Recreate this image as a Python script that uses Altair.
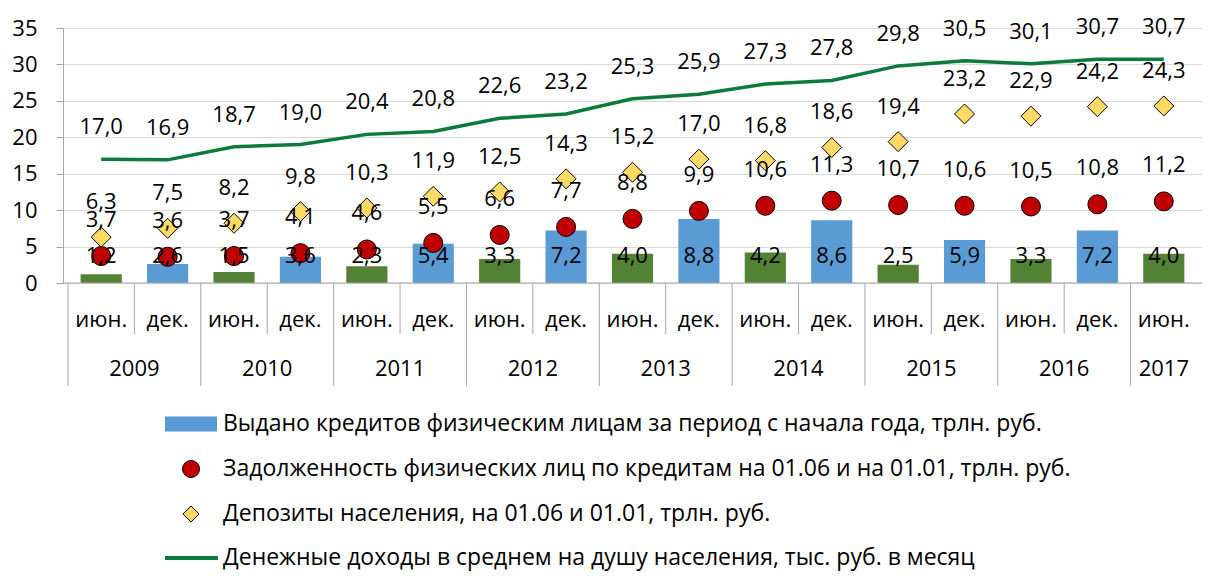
import altair as alt
import pandas as pd

# ---- data ----
years = ["2009", "2009", "2010", "2010", "2011", "2011", "2012", "2012",
         "2013", "2013", "2014", "2014", "2015", "2015", "2016", "2016", "2017"]
months = ["июн.", "дек."] * 8 + ["июн."]
credits = [1.2, 2.6, 1.5, 3.6, 2.3, 5.4, 3.3, 7.2, 4.0, 8.8, 4.2, 8.6, 2.5, 5.9, 3.3, 7.2, 4.0]
debt = [3.7, 3.6, 3.7, 4.1, 4.6, 5.5, 6.6, 7.7, 8.8, 9.9, 10.6, 11.3, 10.7, 10.6, 10.5, 10.8, 11.2]
deposits = [6.3, 7.5, 8.2, 9.8, 10.3, 11.9, 12.5, 14.3, 15.2, 17.0, 16.8, 18.6, 19.4, 23.2, 22.9, 24.2, 24.3]
income = [17.0, 16.9, 18.7, 19.0, 20.4, 20.8, 22.6, 23.2, 25.3, 25.9, 27.3, 27.8, 29.8, 30.5, 30.1, 30.7, 30.7]
y_ticks = [0, 5, 10, 15, 20, 25, 30, 35]
legend_labels = [
    "Выдано кредитов физическим лицам за период с начала года, трлн. руб.",
    "Задолженность физических лиц по кредитам на 01.06 и на 01.01, трлн. руб.",
    "Депозиты населения, на 01.06 и 01.01, трлн. руб.",
    "Денежные доходы в среднем на душу населения, тыс. руб. в месяц",
]

df = pd.DataFrame({
    "i": list(range(len(years))),
    "year": years,
    "month": months,
    "credits": credits,
    "debt": debt,
    "deposits": deposits,
    "income": income,
})

FONT = "Open Sans"
FS = 22
FS_LEG = 23
W, H = 1139, 255
GREEN_BAR = "#548235"
BLUE_BAR = "#5B9BD5"
LINE_GREEN = "#0B7A3A"
RED = "#C00000"
GOLD = "#FFD966"

xs = alt.Scale(domain=[-0.5, len(years) - 0.5], nice=False, zero=False)
ys = alt.Scale(domain=[0, 35], nice=False, zero=True)
yaxis = alt.Axis(values=y_ticks, labelFontSize=FS, labelFont=FONT,
                 labelColor="black", tickSize=7, tickColor="#A6A6A6",
                 domainColor="#A6A6A6", gridColor="#D9D9D9", grid=True,
                 labelPadding=19, title=None)
X = alt.X("i:Q", scale=xs, axis=None)


def Y(field):
    return alt.Y(f"{field}:Q", scale=ys, axis=yaxis, title=None)


base = alt.Chart(df)


def fmt(field):
    return f"replace(format(datum.{field}, '.1f'), '.', ',')"


bars = base.transform_calculate(
    x0="datum.i - 0.31", x1="datum.i + 0.31"
).mark_bar(orient="vertical").encode(
    x=alt.X("x0:Q", scale=xs, axis=None),
    x2="x1:Q",
    y=Y("credits"),
    y2=alt.datum(0),
    color=alt.Color("month:N", scale=alt.Scale(domain=["июн.", "дек."],
                                               range=[GREEN_BAR, BLUE_BAR]),
                    legend=None),
)

axis_line = base.transform_filter("datum.i == 0").mark_rule(
    color="#A6A6A6", strokeWidth=1).encode(
    x=alt.value(0), x2=alt.value(W), y=alt.value(H))

line = base.mark_line(color=LINE_GREEN, strokeWidth=3.5).encode(x=X, y=Y("income"))

circles = base.mark_point(shape="circle", filled=True, fill=RED, stroke="black",
                          strokeWidth=1, size=361, opacity=1).encode(x=X, y=Y("debt"))

diamonds = base.mark_point(shape="diamond", filled=True, fill=GOLD, stroke="black",
                           strokeWidth=1, size=400, opacity=1).encode(x=X, y=Y("deposits"))


def labels(field, dy):
    return base.transform_calculate(lab=fmt(field)).mark_text(
        font=FONT, fontSize=FS, color="black", baseline="middle", dy=dy
    ).encode(x=X, y=Y(field), text="lab:N")


bar_labels = base.transform_calculate(lab=fmt("credits"), ly="3.7").mark_text(
    font=FONT, fontSize=FS, color="black", baseline="middle"
).encode(x=X, y=Y("ly"), text="lab:N")

# category axis: separators and two-level labels
short_sep = base.transform_filter("datum.month == 'июн.' && datum.i < %d" % (len(years) - 1)) \
    .transform_calculate(sx="datum.i + 0.5").mark_rule(color="#A6A6A6").encode(
    x=alt.X("sx:Q", scale=xs, axis=None), y=alt.value(H), y2=alt.value(H + 51))
long_sep = base.transform_filter("datum.month == 'июн.'") \
    .transform_calculate(sx="datum.i - 0.5").mark_rule(color="#A6A6A6").encode(
    x=alt.X("sx:Q", scale=xs, axis=None), y=alt.value(H), y2=alt.value(H + 103))
month_text = base.mark_text(font=FONT, fontSize=FS, color="black", baseline="middle").encode(
    x=X, y=alt.value(H + 37), text="month:N")
year_text = base.transform_aggregate(cx="mean(i)", groupby=["year"]).mark_text(
    font=FONT, fontSize=FS, color="black", baseline="middle").encode(
    x=alt.X("cx:Q", scale=xs, axis=None), y=alt.value(H + 86), text="year:N")

# manual legend
leg_rows = [H + 141, H + 186, H + 231, H + 275]
leg_sym_x = 128
leg_txt_x = 160
one = alt.Chart(pd.DataFrame({"k": [0]}))
leg_rect = one.mark_rect(color=BLUE_BAR).encode(
    x=alt.value(leg_sym_x - 26), x2=alt.value(leg_sym_x + 26),
    y=alt.value(leg_rows[0] - 7.5), y2=alt.value(leg_rows[0] + 7.5))
leg_circle = one.mark_point(shape="circle", filled=True, fill=RED, stroke="black",
                            strokeWidth=1, size=289, opacity=1).encode(
    x=alt.value(leg_sym_x), y=alt.value(leg_rows[1]))
leg_diamond = one.mark_point(shape="diamond", filled=True, fill=GOLD, stroke="black",
                             strokeWidth=1, size=260, opacity=1).encode(
    x=alt.value(leg_sym_x), y=alt.value(leg_rows[2]))
leg_line = one.mark_rule(color=LINE_GREEN, strokeWidth=4).encode(
    x=alt.value(leg_sym_x - 26), x2=alt.value(leg_sym_x + 27), y=alt.value(leg_rows[3]))
leg_texts = [
    one.mark_text(font=FONT, fontSize=FS_LEG, color="black", align="left", baseline="middle",
                  text=lbl).encode(x=alt.value(leg_txt_x), y=alt.value(r))
    for lbl, r in zip(legend_labels, leg_rows)
]

chart = alt.layer(
    bars, axis_line, line, circles, diamonds,
    bar_labels, labels("debt", -36), labels("deposits", -35), labels("income", -32),
    short_sep, long_sep, month_text, year_text,
    leg_rect, leg_circle, leg_diamond, leg_line, *leg_texts,
).properties(
    width=W, height=H,
    autosize=alt.AutoSizeParams(type="none"),
    padding={"left": 55, "top": 20, "right": 0, "bottom": 288},
).configure_view(stroke=None).configure(font=FONT)

chart.save("out.html", embed_options={"renderer": "svg", "actions": False})
